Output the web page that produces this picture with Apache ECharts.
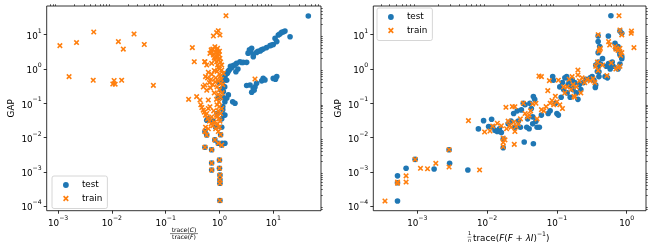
<!DOCTYPE html>
<html><head><meta charset="utf-8">
<script src="https://cdn.jsdelivr.net/npm/echarts@6/dist/echarts.min.js"></script>
<style>html,body{margin:0;padding:0;background:#fff}#c{width:653px;height:252px}</style>
</head><body><div id="c"></div>
<script>
// ---------- data ----------
const seriesNames = ['test', 'train'];

const leftTest = [
  [44.8,35.1],[20.5,8.75],[16.5,12.8],[14.3,11.7],[12.4,9.8],[10.8,7.8],[11.6,6.3],[10,5.2],[8.7,4.8],[7.5,4.2],
  [6.5,3.8],[5.7,3.35],[4.9,3.05],[4.25,2.67],[3.96,4.0],[3.8,3.2],[4.25,2.29],[3.2,1.56],[2.77,1.56],[2.4,1.63],
  [2.08,1.46],[1.8,1.25],[1.68,1.09],[1.52,0.93],[1.4,0.75],[1.26,0.6],[1.18,0.45],[1.36,0.47],[2.02,0.83],
  [3.6,3.6],[3.4,2.9],[5.2,3.3],[6.0,3.6],[9.3,5.0],[13.2,10.5],[15.5,12.2],
  [1.9,1.3],[2.2,1.0],[2.6,1.55],[1.6,1.2],[1.45,0.85],[1.3,0.7],[1.25,0.52],
  [11.6,0.6],[10,0.53],[6.5,0.53],[6.1,0.45],[7.0,0.48],[3.7,0.34],[3.2,0.33],[4.25,0.27],[3.97,0.21],[4.57,0.30],
  [4.9,0.38],[4.4,0.24],[11,0.5],
  [1.46,0.175],[1.36,0.14],[1.76,0.11],[1.94,0.1],[1.26,0.11],[1.18,0.22],[1.25,0.3],[1.15,0.065],[1.2,0.045],
  [1.1,0.035],[1.15,0.08],[1.12,0.0068],[0.62,0.035],[0.85,0.02],[0.75,0.03],[1.05,0.012],[0.9,0.05],[0.95,0.15],
  [1.05,0.25],[0.98,0.4],[1.1,0.02],[1.15,0.15],[1.2,0.3],[0.58,0.032],[1.26,0.045],
  [0.537,0.0148],[0.58,0.0118],[0.82,0.0085],[0.95,0.0068],[1.1,0.006],[1.26,0.0068],[0.537,0.0052],[0.715,0.0044],
  [1.0,0.0022],[1.0,0.00126],[0.715,0.0018],[0.715,0.00113],[1.02,0.0008],[1.02,0.00058],[1.02,0.00046],[1.02,0.000145]
];
const leftTrain = [
  [0.00108,4.8],[0.0016,0.6],[0.0022,5.9],[0.0046,12.0],[0.0045,0.47],[0.0104,0.365],[0.011,0.46],[0.0115,0.36],
  [0.0132,6.3],[0.0163,3.8],[0.0152,0.47],[0.0258,10.5],[0.040,5.2],[0.059,0.333],
  [0.95,13.1],[1.02,9.8],[0.77,9.2],[0.886,11.5],[1.32,35.9],[0.82,4.47],[0.886,3.57],[0.715,3.2],[0.95,2.86],
  [0.77,2.56],[0.665,2.86],[1.02,2.04],[0.82,1.83],[0.886,1.63],[0.715,1.46],[0.537,1.63],[0.58,1.3],[0.313,4.2],
  [0.34,1.63],[0.53,1.63],[0.75,3.8],[0.92,4.0],[1.0,3.3],[0.9,2.3],[0.97,1.8],[0.85,3.0],[0.7,3.6],[1.05,1.6],
  [0.98,2.6],[0.8,2.1],
  [1.1,1.3],[1.1,0.93],[1.18,0.75],[1.02,0.6],[0.537,0.34],[0.5,0.3],[0.58,0.24],[0.376,0.156],[0.434,0.124],
  [0.62,0.124],[0.267,0.13],[4.57,0.51],[0.95,1.1],[0.9,0.85],[1.0,0.7],[0.85,0.55],[0.95,0.45],[1.05,0.38],
  [0.9,0.3],[1.0,0.25],[0.8,0.2],[0.95,0.18],[1.05,0.15],[0.88,0.13],[0.98,0.11],[0.7,0.5],[0.65,0.4],[0.75,0.35],
  [0.6,0.55],[0.68,0.28],[1.08,0.5],[1.12,0.2],[0.92,1.3],[1.0,1.0],[0.8,0.9],[0.72,0.7],[0.62,0.8],[0.55,0.6],
  [1.15,0.35],[0.83,0.42],
  [0.665,0.079],[0.5,0.063],[0.58,0.05],[0.715,0.04],[0.45,0.09],[0.47,0.075],[0.52,0.055],[0.55,0.045],[0.6,0.035],
  [0.65,0.03],[0.7,0.025],[0.75,0.022],[0.8,0.028],[0.9,0.09],[1.0,0.08],[0.95,0.06],[1.05,0.05],[0.88,0.045],
  [0.98,0.035],[1.02,0.03],[0.92,0.025],[1.0,0.02],[0.85,0.018],[0.95,0.015],[1.05,0.012],[0.78,0.06],[0.62,0.07],
  [1.1,0.07],[0.9,0.04],[0.55,0.02],[0.62,0.018],
  [0.537,0.0148],[0.58,0.0118],[0.82,0.0085],[0.95,0.0068],[1.1,0.006],[0.537,0.0052],[0.715,0.0044],[1.0,0.0022],
  [1.0,0.00126],[0.715,0.0018],[0.715,0.00113],[1.02,0.0008],[1.02,0.00058],[1.02,0.00046],[1.02,0.000145]
];
const rightTest = [
  [0.00052,0.00014],[0.00052,0.00076],[0.00052,0.00048],[0.00069,0.00126],[0.00093,0.0023],[0.00174,0.0012],
  [0.0029,0.00176],[0.00285,0.0044],[0.0053,0.00113],
  [0.0075,0.0178],[0.0089,0.031],[0.0116,0.034],[0.0105,0.021],[0.012,0.02],[0.013,0.016],[0.014,0.015],[0.016,0.014],
  [0.017,0.009],[0.017,0.005],[0.015,0.018],[0.02,0.025],[0.022,0.03],[0.024,0.05],[0.025,0.02],[0.028,0.03],
  [0.03,0.02],[0.031,0.064],[0.033,0.1],[0.035,0.09],[0.037,0.02],[0.04,0.018],[0.041,0.1],[0.043,0.07],[0.045,0.04],
  [0.046,0.156],[0.048,0.13],[0.05,0.03],[0.052,0.02],[0.056,0.02],[0.034,0.0074],[0.046,0.0066],[0.06,0.045],
  [0.038,0.035],[0.027,0.06],[0.045,0.025],
  [0.087,0.6],[0.089,0.47],[0.1,0.05],[0.095,0.1],[0.11,0.3],[0.12,0.4],[0.125,0.25],[0.13,0.55],[0.138,0.6],
  [0.14,0.2],[0.145,0.35],[0.15,0.45],[0.155,0.15],[0.16,0.3],[0.165,0.5],[0.17,0.25],[0.18,0.4],[0.19,0.2],
  [0.2,0.13],[0.21,0.35],[0.22,0.25],[0.24,0.4],[0.26,0.5],[0.3,0.55],[0.32,0.6],[0.34,0.47],[0.36,0.34],[0.355,0.29],
  [0.4,0.6],[0.49,0.6],[0.53,0.55],[0.075,0.05],[0.08,0.06],[0.105,0.045],[0.115,0.15],
  [0.39,9.2],[0.546,9.2],[0.39,6.3],[0.41,4.5],[0.39,3.0],[0.39,1.6],[0.39,1.17],[0.40,0.83],[0.36,1.3],[0.38,0.84],
  [0.51,1.2],[0.55,1.45],[0.6,1.3],[0.64,1.2],[0.68,5.6],[0.7,4.0],[0.75,4.5],[0.8,3.0],[0.85,2.0],[0.8,2.6],
  [0.85,2.3],[0.8,12.8],[0.85,11.0],[0.594,35.9],[0.8,1.4],[0.75,1.0],[0.62,1.6],[0.45,2.0],[0.42,1.4],[0.58,1.0]
];
const rightTrain = [
  [0.000344,0.00014],[0.00052,0.0005],[0.00052,0.00046],[0.00069,0.00076],[0.00069,0.0005],[0.00093,0.0023],
  [0.00111,0.00126],[0.0014,0.00122],[0.00184,0.00176],[0.00285,0.0044],[0.00285,0.00138],[0.0078,0.00113],
  [0.0054,0.031],[0.0092,0.0145],[0.011,0.0155],[0.012,0.0215],[0.014,0.026],[0.017,0.0096],[0.017,0.0054],
  [0.017,0.0072],[0.018,0.0085],[0.0245,0.0063],[0.0186,0.076],[0.025,0.079],[0.023,0.08],[0.016,0.022],
  [0.019,0.018],[0.02,0.03],[0.021,0.022],[0.022,0.02],[0.024,0.028],[0.025,0.015],[0.026,0.021],[0.028,0.025],
  [0.03,0.035],[0.033,0.1],[0.035,0.05],[0.038,0.04],[0.04,0.045],[0.042,0.06],[0.045,0.095],[0.05,0.1],
  [0.052,0.035],[0.06,0.065],[0.065,0.06],[0.07,0.08],[0.08,0.1],[0.085,0.12],[0.09,0.09],[0.1,0.11],[0.11,0.09],
  [0.12,0.07],
  [0.0554,0.62],[0.078,0.457],[0.074,0.233],[0.105,0.47],[0.13,0.2],[0.14,0.3],[0.15,0.5],[0.16,0.25],[0.17,0.35],
  [0.18,0.15],[0.19,0.3],[0.2,0.93],[0.2,0.67],[0.21,0.45],[0.22,0.2],[0.25,0.4],[0.27,0.5],[0.23,0.55],[0.3,0.45],
  [0.33,0.52],[0.35,0.4],[0.52,0.64],[0.06,0.6],[0.095,0.16],[0.125,0.3],[0.165,0.6],[0.175,0.16],
  [0.776,35.9],[0.8,13.7],[0.85,9.9],[1.16,11.0],[1.17,12.8],[1.27,4.2],[0.4,3.3],[0.42,4.0],[0.41,3.6],[0.55,6.3],
  [0.57,5.0],[0.39,10],[0.68,4.5],[0.75,3.5],[0.8,4.0],[0.85,3.0],[0.7,3.8],[0.38,1.6],[0.36,1.2],[0.39,0.9],
  [0.8,1.2],[0.7,1.0],[0.75,1.1],[0.45,1.3],[0.6,1.5],[0.82,2.5]
];

// tick values (major) on the log axes
const leftXTicks = [1e-3, 1e-2, 1e-1, 1e0, 1e1];
const rightXTicks = [1e-3, 1e-2, 1e-1, 1e0];
const yTicks = [1e-4, 1e-3, 1e-2, 1e-1, 1e0, 1e1];
// axis extents
const leftXRange = [6.14e-4, 77.1];
const rightXRange = [2.34e-4, 1.89];
const yRange = [7.3e-5, 68.9];

// ---------- styling ----------
const FONT = 'DejaVu Sans';
const BLUE = '#1f77b4', ORANGE = '#ff7f0e';
const xPath = 'path://M0,2L2,0L5,3L8,0L10,2L7,5L10,8L8,10L5,7L2,10L0,8L3,5Z';

function minorsFor(range) {
  const out = [];
  const lo = Math.floor(Math.log10(range[0])), hi = Math.ceil(Math.log10(range[1]));
  for (let e = lo; e <= hi; e++) for (let m = 2; m <= 9; m++) {
    const v = m * Math.pow(10, e);
    if (v > range[0] && v < range[1]) out.push(v);
  }
  return out;
}
function expLabel(v) {
  const e = Math.round(Math.log10(v));
  return '{b|10}{s|' + (e < 0 ? '\u2212' + (-e) : String(e)) + '}';
}
const labelRich = {
  b: { fontSize: 8.8, fontFamily: FONT, color: '#000', verticalAlign: 'bottom', lineHeight: 13 },
  s: { fontSize: 6.2, fontFamily: FONT, color: '#000', verticalAlign: 'top', lineHeight: 13 }
};
function majorAxis(gridIndex, range, ticks, isY) {
  return {
    type: 'log', logBase: 10, gridIndex, min: range[0], max: range[1],
    axisLine: { show: false }, splitLine: { show: false },
    axisTick: { show: true, inside: false, length: 3, customValues: ticks, lineStyle: { color: '#000', width: 0.8 } },
    axisLabel: { show: true, customValues: ticks, formatter: expLabel, rich: labelRich, margin: 5 },
    name: isY ? 'GAP' : '', nameLocation: 'middle', nameGap: 30,
    nameTextStyle: { fontFamily: FONT, fontSize: 8.8, color: '#000' }
  };
}
function minorAxis(gridIndex, range) {
  return {
    type: 'log', logBase: 10, gridIndex, min: range[0], max: range[1],
    axisLine: { show: false }, splitLine: { show: false },
    axisTick: { show: true, inside: false, length: 1.8, customValues: minorsFor(range), lineStyle: { color: '#000', width: 0.6 } },
    axisLabel: { show: false }
  };
}
function legendAt(left, top) {
  return {
    left, top, orient: 'vertical', itemWidth: 22, itemHeight: 5.8, itemGap: 1.5,
    padding: [3, 5, 4, 11], backgroundColor: 'rgba(255,255,255,0.8)',
    borderColor: '#cccccc', borderWidth: 0.8, borderRadius: 2,
    textStyle: { fontFamily: FONT, fontSize: 8.8, color: '#000', lineHeight: 12 },
    selectedMode: false,
    data: [{ name: seriesNames[0], icon: 'circle' }, { name: seriesNames[1], icon: xPath }]
  };
}
function scatter(name, data, xi, yi, color, symbol) {
  return {
    type: 'scatter', name, data, xAxisIndex: xi, yAxisIndex: yi,
    symbol, symbolSize: 5.6, itemStyle: { color, opacity: 1 }, silent: true
  };
}

const chart = echarts.init(document.getElementById('c'), null, { renderer: 'canvas' });
chart.setOption({
  animation: false,
  backgroundColor: '#fff',
  grid: [
    { left: 46.7, top: 6, width: 274.3, height: 204.7, show: true, borderColor: '#000', borderWidth: 0.8, backgroundColor: 'transparent' },
    { left: 373.3, top: 6, width: 272.7, height: 204.7, show: true, borderColor: '#000', borderWidth: 0.8, backgroundColor: 'transparent' }
  ],
  xAxis: [
    majorAxis(0, leftXRange, leftXTicks, false), minorAxis(0, leftXRange),
    majorAxis(1, rightXRange, rightXTicks, false), minorAxis(1, rightXRange)
  ],
  yAxis: [
    majorAxis(0, yRange, yTicks, true), minorAxis(0, yRange),
    majorAxis(1, yRange, yTicks, true), minorAxis(1, yRange)
  ],
  legend: [legendAt(52, 176), legendAt(377, 8)],
  series: [
    scatter(seriesNames[0], leftTest, 0, 0, BLUE, 'circle'),
    scatter(seriesNames[1], leftTrain, 0, 0, ORANGE, xPath),
    scatter(seriesNames[0], rightTest, 2, 2, BLUE, 'circle'),
    scatter(seriesNames[1], rightTrain, 2, 2, ORANGE, xPath)
  ],
  graphic: [
    { type: 'text', x: 184, y: 230, style: { text: '{n|trace(}{i|C}{n|)}', align: 'center', verticalAlign: 'middle',
      rich: { n: { fontFamily: FONT, fontSize: 6.1, fill: '#000' }, i: { fontFamily: FONT, fontSize: 6.1, fontStyle: 'italic', fill: '#000' } } } },
    { type: 'line', shape: { x1: 170, y1: 233.6, x2: 198, y2: 233.6 }, style: { stroke: '#000', lineWidth: 0.5 } },
    { type: 'text', x: 184, y: 237.8, style: { text: '{n|trace(}{i|F}{n|)}', align: 'center', verticalAlign: 'middle',
      rich: { n: { fontFamily: FONT, fontSize: 6.1, fill: '#000' }, i: { fontFamily: FONT, fontSize: 6.1, fontStyle: 'italic', fill: '#000' } } } },
    { type: 'text', x: 469.5, y: 234, style: { text: '1', align: 'center', verticalAlign: 'middle', fontFamily: FONT, fontSize: 5, fill: '#000' } },
    { type: 'line', shape: { x1: 467.5, y1: 237.2, x2: 471.5, y2: 237.2 }, style: { stroke: '#000', lineWidth: 0.4 } },
    { type: 'text', x: 469.5, y: 240.5, style: { text: 'n', align: 'center', verticalAlign: 'middle', fontFamily: FONT, fontSize: 5, fontStyle: 'italic', fill: '#000' } },
    { type: 'text', x: 473, y: 237.5, style: {
      text: '{n|trace(}{i|F}{n|(}{i|F}{n| + }{i|λI}{n|)}{s|\u22121}{n|)}', align: 'left', verticalAlign: 'middle',
      rich: {
        n: { fontFamily: FONT, fontSize: 8.8, fill: '#000', verticalAlign: 'bottom', lineHeight: 12 },
        i: { fontFamily: FONT, fontSize: 8.8, fontStyle: 'italic', fill: '#000', verticalAlign: 'bottom', lineHeight: 12 },
        s: { fontFamily: FONT, fontSize: 6.2, fill: '#000', verticalAlign: 'top', lineHeight: 12 }
      } } }
  ]
});
</script>
</body></html>
